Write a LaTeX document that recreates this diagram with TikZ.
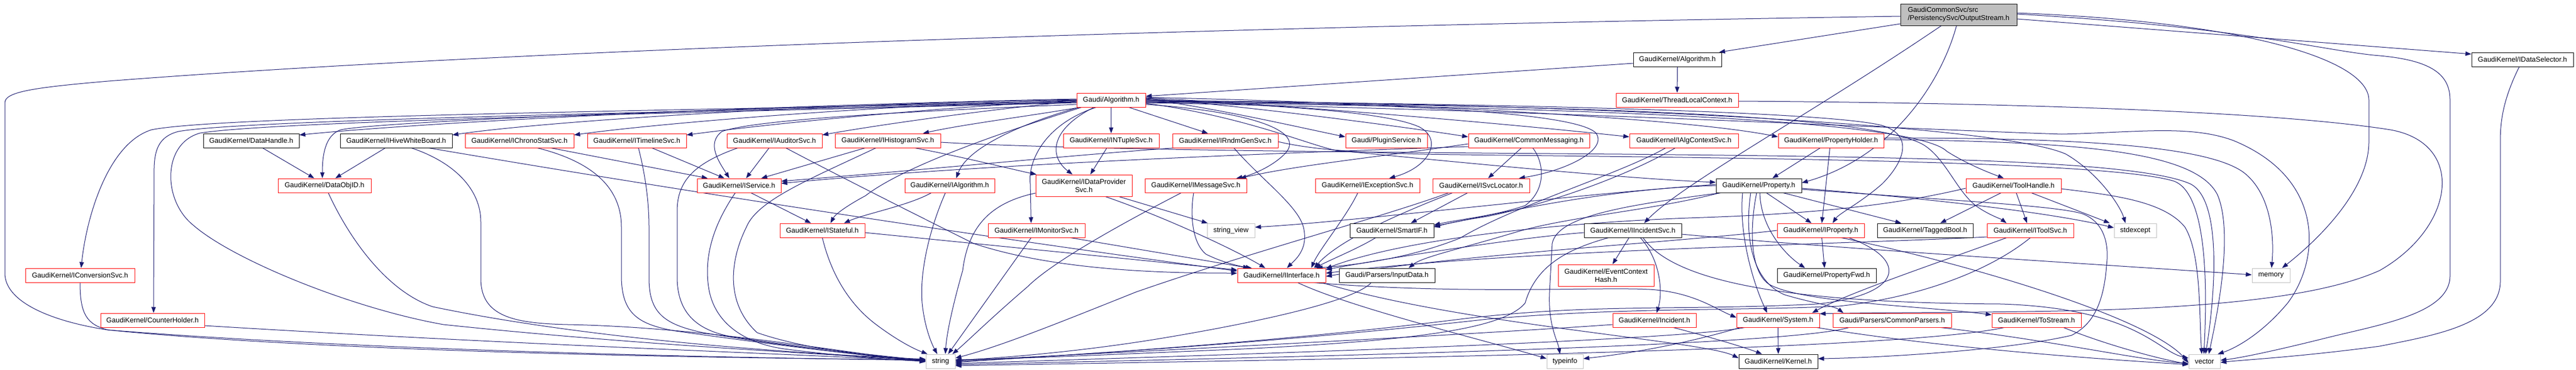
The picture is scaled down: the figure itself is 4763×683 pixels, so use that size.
\documentclass[tikz,border=0pt]{standalone}
\usepackage{fontspec}
\setmainfont{Liberation Sans}
\usetikzlibrary{arrows.meta,backgrounds}
\definecolor{edgec}{RGB}{25,25,112}
\definecolor{greyS}{RGB}{191,191,191}
\tikzset{
 nd/.style={draw, line width=1pt, inner sep=0pt, minimum height=26pt, fill=white, font=\fontsize{13}{15}\selectfont, text=black},
 rb/.style={nd, draw=red},
 kb/.style={nd, draw=black},
 gb/.style={nd, draw=greyS},
 edg/.style={draw=edgec, line width=1pt, -{Triangle[length=11pt,width=8pt]}},
}
\begin{document}
\begin{tikzpicture}[x=1pt,y=1pt]
\useasboundingbox (0,0) rectangle (4763,-683);
% row 0-2
\node[kb,fill=greyS,minimum width=215pt,minimum height=40pt,align=left] (R) at (3621.5,-27) {GaudiCommonSvc/src\\/PersistencySvc/OutputStream.h};
\node[kb,minimum width=163pt] (GKAlg) at (3101.5,-110) {GaudiKernel/Algorithm.h};
\node[kb,minimum width=188pt] (IDataSel) at (4664,-110) {GaudiKernel/IDataSelector.h};
\node[rb,minimum width=127pt] (GAlg) at (2054.5,-185) {Gaudi/Algorithm.h};
\node[rb,minimum width=226pt] (TLC) at (3101,-185) {GaudiKernel/ThreadLocalContext.h};
% row 3
\node[kb,minimum width=177pt] (DataHandle) at (464.5,-260) {GaudiKernel/DataHandle.h};
\node[kb,minimum width=207pt] (IHiveWB) at (732.5,-260) {GaudiKernel/IHiveWhiteBoard.h};
\node[rb,minimum width=201pt] (IChrono) at (960.5,-260) {GaudiKernel/IChronoStatSvc.h};
\node[rb,minimum width=183pt] (ITimeline) at (1177.5,-260) {GaudiKernel/ITimelineSvc.h};
\node[rb,minimum width=176pt] (IAuditor) at (1432,-260) {GaudiKernel/IAuditorSvc.h};
\node[rb,minimum width=195pt] (IHisto) at (1641.5,-260) {GaudiKernel/IHistogramSvc.h};
\node[rb,minimum width=177pt] (INTuple) at (2054.5,-260) {GaudiKernel/INTupleSvc.h};
\node[rb,minimum width=195pt] (IRndm) at (2265.5,-260) {GaudiKernel/IRndmGenSvc.h};
\node[rb,minimum width=151pt] (PluginSvc) at (2563.5,-260) {Gaudi/PluginService.h};
\node[rb,minimum width=224pt] (CommonMsg) at (2827,-260) {GaudiKernel/CommonMessaging.h};
\node[rb,minimum width=201pt] (IAlgCtx) at (3113.5,-260) {GaudiKernel/IAlgContextSvc.h};
\node[rb,minimum width=195pt] (PropHolder) at (3385.5,-260) {GaudiKernel/PropertyHolder.h};
% row 4
\node[rb,minimum width=172pt] (DataObjID) at (600,-343) {GaudiKernel/DataObjID.h};
\node[rb,minimum width=155pt] (IService) at (1366.5,-343) {GaudiKernel/IService.h};
\node[rb,minimum width=166pt] (IAlgorithm) at (1756,-343) {GaudiKernel/IAlgorithm.h};
\node[rb,minimum width=178pt,minimum height=40pt,align=center] (IDataProv) at (2004,-343) {GaudiKernel/IDataProvider\\Svc.h};
\node[rb,minimum width=188pt] (IMessage) at (2211,-343) {GaudiKernel/IMessageSvc.h};
\node[rb,minimum width=193pt] (IException) at (2528.5,-343) {GaudiKernel/IExceptionSvc.h};
\node[rb,minimum width=179pt] (ISvcLoc) at (2738.5,-343) {GaudiKernel/ISvcLocator.h};
\node[kb,minimum width=158pt] (Property) at (3252,-343) {GaudiKernel/Property.h};
\node[rb,minimum width=176pt] (ToolHandle) at (3723,-343) {GaudiKernel/ToolHandle.h};
% row 5
\node[rb,minimum width=157pt] (IStateful) at (1520.5,-426) {GaudiKernel/IStateful.h};
\node[rb,minimum width=179pt] (IMonitor) at (1916.5,-426) {GaudiKernel/IMonitorSvc.h};
\node[gb,minimum width=88pt] (stringview) at (2276,-426) {string\_view};
\node[kb,minimum width=155pt] (SmartIF) at (2573.5,-426) {GaudiKernel/SmartIF.h};
\node[kb,minimum width=180pt] (IIncident) at (3019,-426) {GaudiKernel/IIncidentSvc.h};
\node[rb,minimum width=161pt] (IProperty) at (3366.5,-426) {GaudiKernel/IProperty.h};
\node[kb,minimum width=177pt] (TaggedBool) at (3559.5,-426) {GaudiKernel/TaggedBool.h};
\node[rb,minimum width=160pt] (IToolSvc) at (3754,-426) {GaudiKernel/IToolSvc.h};
\node[gb,minimum width=78pt] (stdexcept) at (3948,-426) {stdexcept};
% row 6
\node[rb,minimum width=202pt] (IConversion) at (148,-509) {GaudiKernel/IConversionSvc.h};
\node[rb,minimum width=163pt] (IInterface) at (2369.5,-509) {GaudiKernel/IInterface.h};
\node[kb,minimum width=177pt] (InputData) at (2564.5,-509) {Gaudi/Parsers/InputData.h};
\node[rb,minimum width=177pt,minimum height=40pt,align=center] (ECHash) at (2969.5,-509) {GaudiKernel/EventContext\\Hash.h};
\node[kb,minimum width=183pt] (PropertyFwd) at (3377.5,-509) {GaudiKernel/PropertyFwd.h};
\node[gb,minimum width=70pt] (memory) at (4199,-509) {memory};
% row 7
\node[rb,minimum width=192pt] (CounterHolder) at (282,-592) {GaudiKernel/CounterHolder.h};
\node[rb,minimum width=154pt] (Incident) at (3059,-592) {GaudiKernel/Incident.h};
\node[rb,minimum width=153pt] (System) at (3287.5,-592) {GaudiKernel/System.h};
\node[rb,minimum width=219pt] (CommonParsers) at (3498.5,-592) {Gaudi/Parsers/CommonParsers.h};
\node[rb,minimum width=165pt] (ToStream) at (3765.5,-592) {GaudiKernel/ToStream.h};
% row 8
\node[gb,minimum width=54pt] (string) at (1739,-668) {string};
\node[gb,minimum width=67pt] (typeinfo) at (2893.5,-668) {typeinfo};
\node[kb,minimum width=146pt] (Kernel) at (3288,-668) {GaudiKernel/Kernel.h};
\node[gb,minimum width=58pt] (vector) at (4076,-668) {vector};

\begin{scope}[on background layer]
\fill[white] (0,0) rectangle (4763,-683);
% root
\draw[edg] ([yshift=-3]R.west) .. controls (2200,-50) and (900,-95) .. (200,-150) .. controls (60,-162) and (9,-170) .. (9,-190) -- (9,-505) .. controls (9,-560) and (100,-595) .. (200,-610) .. controls (600,-650) and (1300,-662) .. ([yshift=3]string.west);
\draw[edg] ([yshift=-17]R.west) -- ([xshift=-5]GKAlg.north east);
\draw[edg] ([yshift=-8]R.east) -- ([yshift=10]IDataSel.west);
\draw[edg] ([yshift=3]R.east) .. controls (4150,-40) and (4380,-110) .. (4380,-185) -- (4380,-262) .. controls (4380,-350) and (4290,-440) .. ([xshift=-15]memory.north east);
\draw[edg] ([yshift=1]R.east) .. controls (4150,-50) and (4300,-95) .. (4400,-103) .. controls (4500,-112) and (4530,-140) .. (4530,-185) -- (4530,-510) .. controls (4530,-580) and (4400,-600) .. (4300,-625) .. controls (4200,-650) and (4140,-662) .. ([yshift=2]vector.east);
\draw[edg] ([xshift=-4]R.south) .. controls (3590,-150) and (3500,-290) .. ([yshift=5]Property.east);
\draw[edg] ([xshift=-32]R.south) .. controls (3350,-210) and (3110,-340) .. ([xshift=21]IIncident.north);
% GaudiKernel/Algorithm.h, IDataSelector, ThreadLocalContext
\draw[edg] ([yshift=-7]GKAlg.west) -- ([yshift=7]GAlg.east);
\draw[edg] (GKAlg.south) -- (TLC.north);
\draw[edg] ([xshift=-6]IDataSel.south) .. controls (4630,-180) and (4623,-220) .. (4623,-260) -- (4623,-520) .. controls (4623,-600) and (4500,-620) .. (4400,-640) .. controls (4250,-660) and (4150,-665) .. ([yshift=-2]vector.east);
\draw[edg] ([yshift=-2]TLC.east) .. controls (3700,-190) and (4200,-205) .. (4420,-240) .. controls (4560,-265) and (4540,-420) .. (4400,-500) .. controls (4200,-590) and (3700,-573) .. ([yshift=12]System.east);
% Gaudi/Algorithm.h
\draw[edg] ([yshift=2]GAlg.west) .. controls (1400,-195) and (800,-225) .. ([yshift=-3]DataHandle.north east);
\draw[edg] ([yshift=1]GAlg.west) .. controls (1500,-192) and (1000,-225) .. ([yshift=-3]IHiveWB.north east);
\draw[edg] (GAlg.west) .. controls (1600,-195) and (1200,-230) .. ([yshift=-3]IChrono.north east);
\draw[edg] ([yshift=-1]GAlg.west) .. controls (1700,-200) and (1400,-232) .. ([yshift=-3]ITimeline.north east);
\draw[edg] ([yshift=-2]GAlg.west) .. controls (1800,-205) and (1600,-235) .. ([yshift=-3]IAuditor.north east);
\draw[edg] ([xshift=-58]GAlg.south) .. controls (1900,-215) and (1780,-230) .. ([xshift=65]IHisto.north);
\draw[edg] (GAlg.south) -- (INTuple.north);
\draw[edg] ([xshift=33]GAlg.south) -- ([xshift=-32]IRndm.north);
\draw[edg] ([yshift=-3]GAlg.west) .. controls (1200,-205) and (400,-215) .. (280,-240) .. controls (200,-265) and (160,-400) .. ([xshift=2]IConversion.north);
\draw[edg] ([yshift=-4]GAlg.west) .. controls (1200,-208) and (450,-222) .. (330,-243) .. controls (295,-252) and (286,-275) .. (285,-310) -- ([xshift=2]CounterHolder.north);
\draw[edg] ([yshift=-5]GAlg.west) .. controls (1200,-210) and (500,-225) .. (370,-246) .. controls (300,-265) and (300,-370) .. (357,-416) .. controls (430,-480) and (650,-570) .. (820,-600) .. controls (1200,-640) and (1550,-655) .. ([yshift=1]string.west);
\draw[edg] ([yshift=-1]GAlg.west) .. controls (1300,-200) and (700,-225) .. (630,-240) .. controls (600,-250) and (596,-290) .. ([xshift=-4]DataObjID.north);
\draw[edg] ([yshift=-8]GAlg.west) .. controls (1700,-205) and (1400,-220) .. (1335,-243) .. controls (1305,-265) and (1330,-300) .. ([xshift=-18]IService.north);
\draw[edg] ([xshift=-55]GAlg.south) .. controls (1900,-230) and (1680,-300) .. (1600,-362) .. controls (1570,-378) and (1545,-395) .. ([xshift=15]IStateful.north);
\draw[edg] ([xshift=-60]GAlg.south) .. controls (1900,-225) and (1790,-270) .. ([xshift=12]IAlgorithm.north);
\draw[edg] ([xshift=-32]GAlg.south) .. controls (1940,-240) and (1940,-290) .. ([xshift=-21]IDataProv.north);
\draw[edg] ([xshift=-28]GAlg.south) .. controls (1930,-230) and (1900,-300) .. (1905,-340) -- ([xshift=-10]IMonitor.north);
\draw[edg] ([yshift=-8]GAlg.east) .. controls (2300,-205) and (2420,-240) .. (2375,-285) .. controls (2350,-310) and (2310,-325) .. ([xshift=75]IMessage.north);
\draw[edg] ([yshift=2]GAlg.east) .. controls (2250,-200) and (2400,-235) .. ([yshift=7]PluginSvc.west);
\draw[edg] ([yshift=3]GAlg.east) .. controls (2300,-195) and (2600,-235) .. ([yshift=7]CommonMsg.west);
\draw[edg] ([yshift=4]GAlg.east) .. controls (2400,-195) and (2800,-230) .. ([yshift=7]IAlgCtx.west);
\draw[edg] ([yshift=5]GAlg.east) .. controls (2500,-188) and (3100,-215) .. ([yshift=7]PropHolder.west);
\draw[edg] ([yshift=1]GAlg.east) .. controls (2350,-195) and (2560,-205) .. (2625,-235) .. controls (2670,-260) and (2640,-310) .. ([xshift=40]IException.north);
\draw[edg] (GAlg.east) .. controls (2450,-190) and (2900,-200) .. (2950,-245) .. controls (2975,-275) and (2900,-315) .. ([xshift=70]ISvcLoc.north);
\draw[edg] ([yshift=-6]GAlg.east) .. controls (2300,-215) and (2420,-268) .. (2470,-278) .. controls (2700,-300) and (3000,-330) .. ([yshift=6]Property.west);
\draw[edg] ([yshift=-2]GAlg.east) .. controls (2700,-190) and (3380,-205) .. (3480,-232) .. controls (3540,-250) and (3520,-300) .. (3480,-340) .. controls (3440,-375) and (3400,-395) .. ([xshift=22]IProperty.north);
\draw[edg] ([yshift=-3]GAlg.east) .. controls (2800,-195) and (3450,-205) .. (3557,-268) .. controls (3600,-295) and (3620,-360) .. (3660,-385) .. controls (3680,-398) and (3700,-405) .. ([xshift=-44]IToolSvc.north);
\draw[edg] ([yshift=-4]GAlg.east) .. controls (2900,-198) and (3540,-220) .. (3600,-280) .. controls (3640,-305) and (3680,-320) .. ([xshift=-18]ToolHandle.north);
\draw[edg] ([yshift=-1]GAlg.east) .. controls (2900,-190) and (3700,-230) .. (3820,-285) .. controls (3880,-320) and (3920,-380) .. ([xshift=-18]stdexcept.north);
\draw[edg] ([yshift=-5]GAlg.east) .. controls (2900,-205) and (3500,-238) .. (3812,-248) .. controls (3950,-245) and (4050,-230) .. (4130,-260) .. controls (4300,-330) and (4290,-480) .. (4230,-560) .. controls (4180,-620) and (4130,-645) .. ([xshift=-5]vector.north east);
% left part
\draw[edg] ([xshift=21]DataHandle.south) -- ([xshift=-19]DataObjID.north);
\draw[edg] ([xshift=-20]IHiveWB.south) -- ([xshift=20]DataObjID.north);
\draw[edg] ([xshift=28]IHiveWB.south) .. controls (840,-300) and (889,-350) .. (889,-410) -- (889,-515) .. controls (889,-585) and (950,-598) .. (1050,-600) .. controls (1300,-605) and (1550,-650) .. ([yshift=-1]string.west);
\draw[edg] ([xshift=60]IHiveWB.south) .. controls (1300,-360) and (1900,-450) .. ([yshift=8]IInterface.west);
\draw[edg] ([xshift=7]DataObjID.south) .. controls (650,-450) and (720,-540) .. (800,-567) .. controls (1100,-630) and (1500,-655) .. ([yshift=4]string.west);
\draw[edg] (IConversion.south) .. controls (148,-580) and (160,-600) .. (200,-610) .. controls (700,-650) and (1400,-662) .. ([yshift=2]string.west);
\draw[edg] ([yshift=-10]CounterHolder.east) .. controls (1000,-640) and (1500,-655) .. (string.west);
\draw[edg] ([xshift=58]IChrono.south) -- ([xshift=-58]IService.north);
\draw[edg] ([xshift=33]IChrono.south) .. controls (1100,-300) and (1149,-350) .. (1149,-420) -- (1149,-510) .. controls (1149,-580) and (1180,-600) .. (1250,-612) .. controls (1450,-640) and (1600,-658) .. ([yshift=1]string.west);
\draw[edg] ([xshift=28]ITimeline.south) -- ([xshift=-27]IService.north);
\draw[edg] ([xshift=3]ITimeline.south) .. controls (1195,-330) and (1200,-380) .. (1200,-420) -- (1200,-515) .. controls (1200,-580) and (1230,-600) .. (1300,-615) .. controls (1450,-640) and (1620,-660) .. (string.west);
\draw[edg] ([xshift=-10]IAuditor.south) -- ([xshift=13]IService.north);
\draw[edg] ([xshift=-68]IAuditor.south) .. controls (1290,-300) and (1252,-330) .. (1252,-390) -- (1252,-512) .. controls (1252,-580) and (1290,-610) .. (1350,-622) .. controls (1500,-645) and (1650,-660) .. ([yshift=2]string.west);
\draw[edg] ([xshift=21]IAuditor.south) .. controls (1560,-330) and (1700,-400) .. (1800,-450) .. controls (1950,-500) and (2150,-505) .. ([yshift=4]IInterface.west);
\draw[edg] ([xshift=-42]IHisto.south) -- ([xshift=41]IService.north);
\draw[edg] ([xshift=50]IHisto.south) .. controls (1780,-290) and (1880,-315) .. ([xshift=2]IDataProv.north west);
\draw[edg] ([xshift=-22]IHisto.south) .. controls (1500,-330) and (1400,-370) .. (1380,-420) .. controls (1350,-480) and (1340,-560) .. (1400,-615) .. controls (1500,-650) and (1650,-662) .. ([yshift=3]string.west);
\draw[edg] ([yshift=-3]IHisto.east) .. controls (2000,-278) and (2600,-282) .. (3000,-285) .. controls (3500,-290) and (3950,-295) .. (4050,-340) .. controls (4110,-370) and (4095,-550) .. ([xshift=2]vector.north);
\draw[edg] ([xshift=22]IService.south) -- ([xshift=-21]IStateful.north);
\draw[edg] ([xshift=-7]IService.south) .. controls (1330,-400) and (1300,-460) .. (1310,-530) .. controls (1320,-600) and (1380,-635) .. (1450,-645) .. controls (1550,-658) and (1650,-665) .. (string.west);
\draw[edg] (IStateful.south) .. controls (1540,-520) and (1580,-570) .. (1620,-600) .. controls (1660,-630) and (1690,-645) .. ([xshift=-24]string.north);
\draw[edg] ([yshift=-4]IStateful.east) .. controls (1800,-450) and (2100,-480) .. ([yshift=10]IInterface.west);
\draw[edg] ([xshift=-34]IAlgorithm.south) .. controls (1680,-380) and (1600,-395) .. ([xshift=40]IStateful.north);
\draw[edg] ([xshift=-8]IAlgorithm.south) .. controls (1720,-420) and (1700,-500) .. (1705,-560) .. controls (1710,-610) and (1725,-640) .. ([xshift=-6]string.north);
\draw[edg] ([yshift=-14]IDataProv.west) .. controls (1830,-375) and (1790,-420) .. (1780,-500) .. controls (1760,-570) and (1750,-620) .. ([xshift=9]string.north);
\draw[edg] ([xshift=65]IDataProv.south) -- ([xshift=-43]stringview.north);
\draw[edg] ([xshift=40]IDataProv.south) .. controls (2150,-400) and (2280,-460) .. ([xshift=-30]IInterface.north);
\draw[edg] ([xshift=-10]IMonitor.south) -- ([xshift=14]string.north);
\draw[edg] ([xshift=63]IMonitor.south) .. controls (2100,-460) and (2220,-480) .. ([xshift=-60]IInterface.north);
\draw[edg] ([xshift=-27]IMessage.south) .. controls (2100,-400) and (1950,-480) .. (1900,-530) .. controls (1830,-590) and (1790,-630) .. ([xshift=22]string.north);
\draw[edg] ([xshift=-4]IMessage.south) .. controls (2200,-400) and (2205,-450) .. (2230,-470) .. controls (2260,-485) and (2290,-492) .. ([xshift=-55]IInterface.north);
\draw[edg] ([xshift=-8]INTuple.south) -- ([xshift=12]IDataProv.north);
\draw[edg] ([xshift=5]IRndm.south west) .. controls (2000,-285) and (1700,-315) .. ([yshift=8]IService.east);
\draw[edg] ([xshift=16]IRndm.south) .. controls (2330,-330) and (2400,-380) .. (2410,-420) .. controls (2420,-460) and (2395,-480) .. ([xshift=10]IInterface.north);
\draw[edg] ([yshift=-2]IRndm.east) .. controls (2420,-275) and (2500,-284) .. (2700,-286) .. controls (3200,-292) and (3900,-297) .. (4020,-335) .. controls (4085,-360) and (4080,-550) .. ([xshift=-1]vector.north);
% middle
\draw[edg] ([yshift=-11]CommonMsg.west) .. controls (2300,-285) and (1800,-305) .. ([yshift=4]IService.east);
\draw[edg] ([yshift=-6]CommonMsg.west) .. controls (2550,-290) and (2400,-305) .. ([xshift=82]IMessage.north);
\draw[edg] ([xshift=-14]CommonMsg.south) -- ([xshift=13]ISvcLoc.north);
\draw[edg] ([xshift=7]CommonMsg.south) .. controls (2855,-300) and (2860,-350) .. (2820,-380) .. controls (2760,-400) and (2700,-405) .. ([yshift=10]SmartIF.east);
\draw[edg] ([xshift=-18]IException.south) .. controls (2490,-400) and (2440,-460) .. ([xshift=55]IInterface.north);
\draw[edg] ([xshift=-25]ISvcLoc.south) -- ([xshift=35]SmartIF.north);
\draw[edg] ([xshift=-53]ISvcLoc.south) .. controls (2600,-390) and (2480,-440) .. ([xshift=60]IInterface.north);
\draw[edg] ([xshift=-60]ISvcLoc.south) .. controls (2560,-400) and (2300,-470) .. (2100,-540) .. controls (1950,-600) and (1850,-640) .. ([yshift=6]string.east);
\draw[edg] ([xshift=-30]SmartIF.south) .. controls (2510,-460) and (2460,-480) .. ([xshift=62]IInterface.north);
\draw[edg] ([xshift=-34]IAlgCtx.south) .. controls (3000,-320) and (2800,-380) .. (2700,-440) .. controls (2600,-480) and (2500,-490) .. ([xshift=65]IInterface.north);
\draw[edg] ([xshift=-16]IAlgCtx.south) .. controls (3000,-330) and (2850,-380) .. (2750,-400) .. controls (2700,-408) and (2680,-412) .. ([yshift=6]SmartIF.east);
\draw[edg] ([xshift=-7]IIncident.south) -- ([xshift=12]ECHash.north);
\draw[edg] ([xshift=14]IIncident.south) .. controls (3070,-480) and (3075,-540) .. ([xshift=4]Incident.north);
\draw[edg] ([yshift=-4]IIncident.west) .. controls (2800,-440) and (2550,-480) .. ([yshift=-3]IInterface.north east);
\draw[edg] ([xshift=-45]IIncident.south) .. controls (2900,-460) and (2840,-490) .. (2820,-560) .. controls (2780,-610) and (2600,-630) .. (2300,-645) .. controls (2000,-658) and (1850,-664) .. ([yshift=3]string.east);
\draw[edg] ([yshift=-7]IIncident.east) .. controls (3400,-460) and (3900,-490) .. ([yshift=1]memory.west);
\draw[edg] ([xshift=19]IIncident.south) .. controls (3100,-530) and (3350,-560) .. (3700,-562) .. controls (3950,-570) and (3990,-650) .. ([yshift=6]vector.west);
\draw[edg] ([yshift=-8]Incident.west) .. controls (2700,-620) and (2100,-650) .. ([yshift=1]string.east);
\draw[edg] ([xshift=35]Incident.south) .. controls (3150,-620) and (3220,-640) .. ([xshift=-30]Kernel.north);
\draw[edg] ([xshift=30]IInterface.south) .. controls (2500,-570) and (2750,-630) .. ([yshift=5]typeinfo.west);
\draw[edg] ([xshift=60]IInterface.south) .. controls (2700,-545) and (2950,-530) .. (3050,-535) .. controls (3130,-540) and (3170,-570) .. ([yshift=5]System.west);
\draw[edg] ([xshift=75]IInterface.south) .. controls (2700,-600) and (3150,-630) .. ([yshift=6]Kernel.west);
\draw[edg] ([xshift=-29]InputData.south) .. controls (2500,-560) and (2300,-600) .. (2150,-625) .. controls (2000,-650) and (1850,-662) .. ([yshift=2]string.east);
% Property
\draw[edg] ([xshift=14]Property.south) -- ([xshift=-17]IProperty.north);
\draw[edg] ([xshift=45]Property.south) -- ([xshift=-44]TaggedBool.north);
\draw[edg] ([xshift=2]Property.south) .. controls (3255,-420) and (3300,-470) .. ([xshift=-40]PropertyFwd.north);
\draw[edg] ([xshift=-4]Property.south) .. controls (3235,-420) and (3235,-500) .. (3270,-525) .. controls (3330,-560) and (3550,-565) .. ([yshift=10]ToStream.west);
\draw[edg] ([yshift=-5]Property.east) .. controls (3600,-370) and (3800,-395) .. ([yshift=5]stdexcept.west);
\draw[edg] ([yshift=-7]Property.east) .. controls (3600,-370) and (3800,-380) .. (3850,-395) .. controls (3890,-410) and (3900,-450) .. (3895,-490) .. controls (3890,-560) and (3870,-600) .. (3830,-620) .. controls (3700,-650) and (3450,-662) .. ([yshift=5]Kernel.east);
\draw[edg] ([yshift=2]Property.west) .. controls (2900,-360) and (2500,-410) .. ([yshift=6]stringview.east);
\draw[edg] (Property.west) .. controls (2950,-350) and (2750,-400) .. ([yshift=8]SmartIF.east);
\draw[edg] ([xshift=-72]Property.south) .. controls (3050,-390) and (2900,-400) .. (2800,-430) .. controls (2700,-460) and (2630,-475) .. ([xshift=40]InputData.north);
\draw[edg] ([xshift=-70]Property.south) .. controls (3000,-380) and (2880,-400) .. (2870,-450) -- (2865,-540) .. controls (2862,-600) and (2880,-630) .. ([xshift=-9]typeinfo.north);
\draw[edg] ([xshift=-30]Property.south) .. controls (3215,-430) and (3240,-520) .. ([xshift=-20]System.north);
\draw[edg] ([xshift=-15]Property.south) .. controls (3225,-440) and (3240,-520) .. (3300,-545) .. controls (3350,-560) and (3390,-565) .. ([xshift=-90]CommonParsers.north);
% PropertyHolder
\draw[edg] ([xshift=-20]PropHolder.south) -- ([xshift=25]Property.north);
\draw[edg] ([xshift=-2]PropHolder.south) -- ([xshift=2]IProperty.north);
\draw[edg] ([yshift=5]PropHolder.east) .. controls (3800,-255) and (4080,-265) .. (4150,-320) .. controls (4200,-360) and (4205,-440) .. ([xshift=1]memory.north);
\draw[edg] ([yshift=2]PropHolder.east) .. controls (3850,-262) and (4060,-280) .. (4100,-360) .. controls (4130,-430) and (4100,-580) .. ([xshift=8]vector.north);
% ToolHandle
\draw[edg] ([xshift=5]ToolHandle.south) -- ([xshift=-6]IToolSvc.north);
\draw[edg] ([xshift=-23]ToolHandle.south) -- ([xshift=28]TaggedBool.north);
\draw[edg] ([xshift=33]ToolHandle.south) -- ([xshift=-47]stdexcept.north);
\draw[edg] ([yshift=-6]ToolHandle.east) .. controls (3900,-360) and (4000,-370) .. (4040,-420) .. controls (4070,-470) and (4066,-580) .. ([xshift=-5]vector.north);
\draw[edg] ([yshift=-5]ToolHandle.west) .. controls (3500,-380) and (3350,-395) .. (3150,-402) .. controls (2900,-410) and (2600,-440) .. ([yshift=-1]IInterface.north east);
% IProperty, IToolSvc
\draw[edg] ([xshift=2]IProperty.south) -- ([xshift=-4]PropertyFwd.north);
\draw[edg] (IProperty.west) .. controls (3100,-448) and (2700,-470) .. ([yshift=-2]IInterface.east);
\draw[edg] ([xshift=38]IProperty.south) .. controls (3650,-490) and (3980,-590) .. ([yshift=-3]vector.west);
\draw[edg] ([xshift=52]IProperty.south) .. controls (3530,-480) and (3520,-545) .. (3360,-562) .. controls (3100,-575) and (2950,-560) .. (2700,-590) .. controls (2300,-640) and (1900,-660) .. ([yshift=-2]string.east);
\draw[edg] ([xshift=-44]IToolSvc.south) .. controls (3600,-480) and (3420,-540) .. ([xshift=63]System.north);
\draw[edg] (IToolSvc.south) .. controls (3680,-500) and (3550,-550) .. (3400,-566) .. controls (3200,-575) and (3000,-568) .. (2750,-590) .. controls (2350,-635) and (1950,-658) .. ([yshift=-1]string.east);
\draw[edg] ([yshift=-12]IToolSvc.west) .. controls (3400,-452) and (2800,-462) .. ([yshift=4]IInterface.east);
% bottom
\draw[edg] (System.south) -- (Kernel.north);
\draw[edg] ([xshift=-62]System.south) .. controls (3100,-630) and (2300,-655) .. ([yshift=-4]string.east);
\draw[edg] ([xshift=-70]System.south) .. controls (3100,-640) and (3000,-655) .. ([yshift=5]typeinfo.east);
\draw[edg] ([xshift=-5]System.south east) .. controls (3600,-645) and (3900,-665) .. ([yshift=-6]vector.west);
\draw[edg] ([xshift=90]CommonParsers.south) .. controls (3800,-630) and (3950,-665) .. ([yshift=-4]vector.west);
\draw[edg] ([xshift=-80]CommonParsers.south) .. controls (3300,-640) and (2400,-660) .. ([yshift=-6]string.east);
\draw[edg] ([xshift=50]ToStream.south) .. controls (3900,-640) and (4000,-665) .. ([yshift=-5]vector.west);
\draw[edg] ([xshift=-60]ToStream.south) .. controls (3500,-650) and (2400,-665) .. ([yshift=-8]string.east);
\end{scope}
\end{tikzpicture}
\end{document}
